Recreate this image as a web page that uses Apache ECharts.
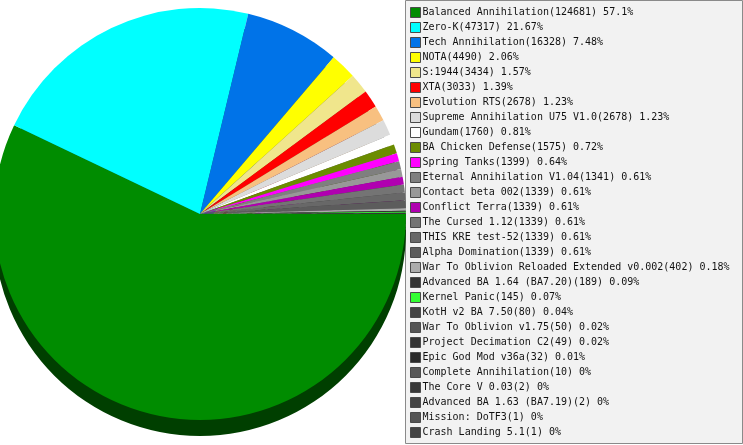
<!DOCTYPE html>
<html>
<head>
<meta charset="utf-8">
<script src="https://cdn.jsdelivr.net/npm/echarts@6/dist/echarts.min.js"></script>
<style>
  html, body { margin: 0; padding: 0; background: #fff; }
  #main { width: 743px; height: 445px; }
</style>
</head>
<body>
<div id="main"></div>
<script>
var modNames = ['Balanced Annihilation', 'Zero-K', 'Tech Annihilation', 'NOTA', 'S:1944', 'XTA',
  'Evolution RTS', 'Supreme Annihilation U75 V1.0', 'Gundam', 'BA Chicken Defense', 'Spring Tanks',
  'Eternal Annihilation V1.04', 'Contact beta 002', 'Conflict Terra', 'The Cursed 1.12',
  'THIS KRE test-52', 'Alpha Domination', 'War To Oblivion Reloaded Extended v0.002',
  'Advanced BA 1.64 (BA7.20)', 'Kernel Panic', 'KotH v2 BA 7.50', 'War To Oblivion v1.75',
  'Project Decimation C2', 'Epic God Mod v36a', 'Complete Annihilation', 'The Core V 0.03',
  'Advanced BA 1.63 (BA7.19)', 'Mission: DoTF3', 'Crash Landing 5.1'];
var modCounts = [124681, 47317, 16328, 4490, 3434, 3033, 2678, 2678, 1760, 1575, 1399,
  1341, 1339, 1339, 1339, 1339, 1339, 402, 189, 145, 80, 50, 49, 32, 10, 2, 2, 1, 1];
var modPercents = ['57.1', '21.67', '7.48', '2.06', '1.57', '1.39', '1.23', '1.23', '0.81', '0.72', '0.64',
  '0.61', '0.61', '0.61', '0.61', '0.61', '0.61', '0.18', '0.09', '0.07', '0.04', '0.02',
  '0.02', '0.01', '0', '0', '0', '0', '0'];
var modColors = ['#008c00', '#00ffff', '#0073e8', '#ffff00', '#f0e68c', '#ff0000', '#f8c080',
  '#dcdcdc', '#ffffff', '#6b8c00', '#ff00ff', '#7f7f7f', '#989898', '#b000b0', '#747474',
  '#686868', '#5c5c5c', '#acacac', '#333333', '#33ff33', '#444444', '#555555', '#333333',
  '#2a2a2a', '#585858', '#383838', '#444444', '#555555', '#444444'];

function darken(hex)
{
	var n = parseInt(hex.slice(1), 16);
	var r = Math.round(((n >> 16) & 255) * 0.45);
	var g = Math.round(((n >> 8) & 255) * 0.45);
	var b = Math.round((n & 255) * 0.45);
	return 'rgb(' + r + ',' + g + ',' + b + ')';
}

function buildChart()
{
	var myChart = echarts.init(document.getElementById('main'));

	var faceData = [], sideData = [];
	for (var i = 0; i < modNames.length; i++) {
		faceData.push({ name: modNames[i], value: modCounts[i], itemStyle: { color: modColors[i] } });
		// 底部厚度用的暗色饼，名字不同以免影响图例颜色
		sideData.push({ name: 'side-' + i, value: modCounts[i], itemStyle: { color: darken(modColors[i]) } });
	}

	var option = {
		animation: false,
		backgroundColor: '#fff',
		graphic: [{
			type: 'rect',
			z: -1,
			shape: { x: 405.5, y: 0.5, width: 337, height: 443 },
			style: { fill: '#f2f2f2', stroke: '#8a8a8a', lineWidth: 1 }
		}],
		legend: {
			orient: 'vertical',
			left: 410,
			top: 7,
			height: 800,
			padding: 0,
			itemGap: 4,
			itemWidth: 10,
			itemHeight: 10,
			icon: 'rect',
			itemStyle: { borderColor: '#4a4a4a', borderWidth: 1 },
			formatter: function (name) {
				var idx = modNames.indexOf(name);
				return name + '(' + modCounts[idx] + ') ' + modPercents[idx] + '%';
			},
			textStyle: {
				fontFamily: 'DejaVu Sans Mono',
				fontSize: 10,
				lineHeight: 10,
				color: '#111',
				padding: [0, 0, 0, -3]
			},
			data: modNames
		},
		series: [
			{
				name: 'side',
				type: 'pie',
				center: [200, 230],
				radius: [0, 206],
				startAngle: 0,
				clockwise: true,
				silent: true,
				label: { show: false },
				labelLine: { show: false },
				legendHoverLink: false,
				data: sideData,
				z: 1
			},
			{
				name: 'mods',
				type: 'pie',
				center: [200, 214],
				radius: [0, 206],
				startAngle: 0,
				clockwise: true,
				label: { show: false },
				labelLine: { show: false },
				itemStyle: { borderWidth: 0 },
				data: faceData,
				z: 2
			}
		]
	};

	myChart.setOption(option);
}

buildChart();
</script>
</body>
</html>
